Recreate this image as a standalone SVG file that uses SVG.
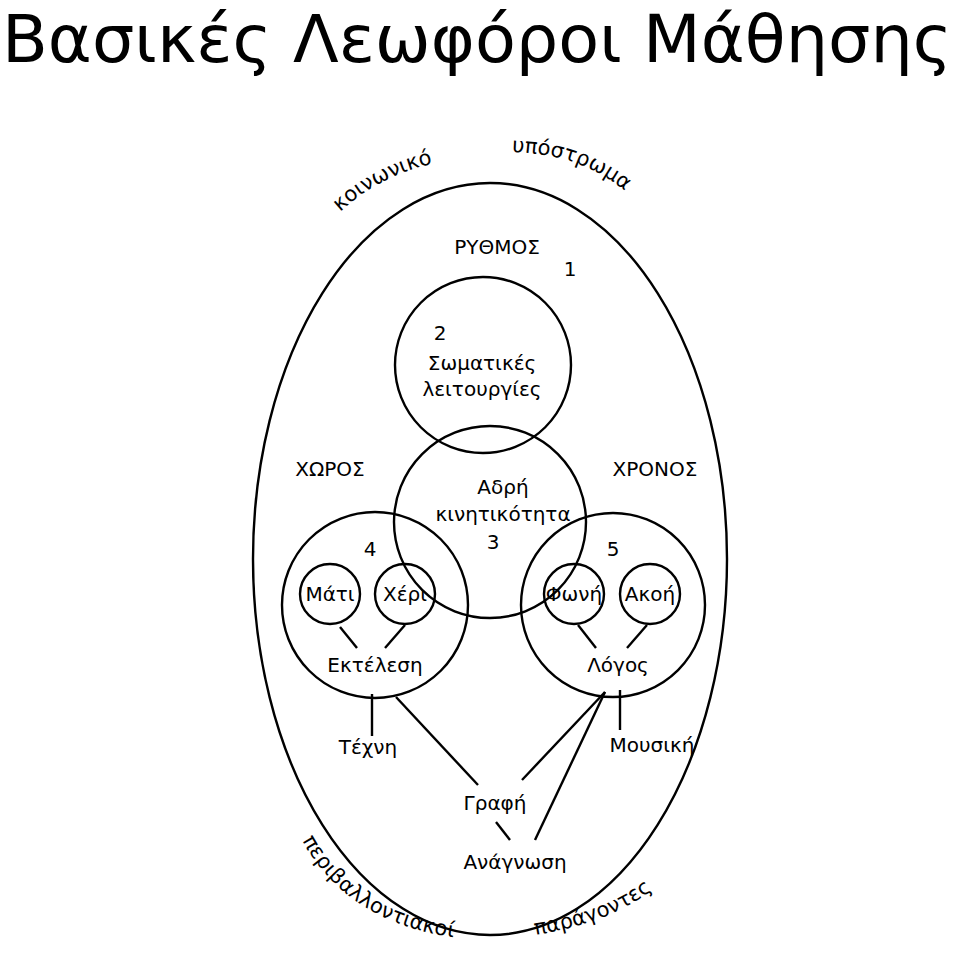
<svg xmlns="http://www.w3.org/2000/svg" width="960" height="956" viewBox="0 0 960 956">
<style>
.s{fill:none;stroke:#000;stroke-width:2.4}
.t{font-family:"DejaVu Sans",sans-serif;font-size:20px;fill:#000;text-anchor:middle}
.c{font-family:"DejaVu Sans",sans-serif;font-size:21px;fill:#000}
</style>
<rect width="960" height="956" fill="#fff"/>
<text x="2" y="62" font-family="'DejaVu Sans',sans-serif" font-size="66" textLength="950" lengthAdjust="spacingAndGlyphs">Βασικές Λεωφόροι Μάθησης</text>
<defs>
<path id="p1" d="M340 212 Q385 170 452 160"/>
<path id="p2" d="M512 152 Q592 154 640 205"/>
<path id="p3" d="M302 840 Q352 932 480 940"/>
<path id="p4" d="M535 935 Q628 920 672 872"/>
</defs>
<g id="outer"><ellipse class="s" cx="490" cy="559" rx="237" ry="376"/></g>
<g id="rythmos"><circle class="s" cx="483" cy="365" r="88"/></g>
<g id="adri"><circle class="s" cx="490" cy="522" r="96"/></g>
<g id="choros"><circle class="s" cx="375" cy="605" r="93"/></g>
<g id="chronos"><circle class="s" cx="613" cy="605" r="92"/></g>
<g id="mati"><circle class="s" cx="330" cy="594" r="30"/><text class="t" x="330" y="601">Μάτι</text></g>
<g id="cheri"><circle class="s" cx="405" cy="594" r="30"/><text class="t" x="405" y="601">Χέρι</text></g>
<g id="foni"><circle class="s" cx="574" cy="594" r="30"/><text class="t" x="574" y="601">Φωνή</text></g>
<g id="akoi"><circle class="s" cx="650" cy="594" r="30"/><text class="t" x="650" y="601">Ακοή</text></g>
<g id="connectors" class="s">
<line x1="340" y1="627" x2="357" y2="648"/>
<line x1="405" y1="625" x2="385" y2="648"/>
<line x1="578" y1="625" x2="596" y2="648"/>
<line x1="647" y1="625" x2="627" y2="648"/>
<line x1="372" y1="694" x2="372" y2="736"/>
<line x1="396" y1="697" x2="478" y2="785"/>
<line x1="620" y1="690" x2="620" y2="730"/>
<line x1="605" y1="692" x2="522" y2="780"/>
<line x1="605" y1="692" x2="535" y2="840"/>
<line x1="496" y1="822" x2="510" y2="840"/>
</g>
<g id="labels">
<text class="t" x="497" y="254">ΡΥΘΜΟΣ</text>
<text class="t" x="570" y="276">1</text>
<text class="t" x="440" y="340">2</text>
<text class="t" x="482" y="370">Σωματικές</text>
<text class="t" x="482" y="396">λειτουργίες</text>
<text class="t" x="330" y="476">ΧΩΡΟΣ</text>
<text class="t" x="655" y="476">ΧΡΟΝΟΣ</text>
<text class="t" x="503" y="494">Αδρή</text>
<text class="t" x="503" y="521">κινητικότητα</text>
<text class="t" x="493" y="549">3</text>
<text class="t" x="370" y="556">4</text>
<text class="t" x="613" y="556">5</text>
<text class="t" x="375" y="672">Εκτέλεση</text>
<text class="t" x="618" y="672">Λόγος</text>
<text class="t" x="368" y="754">Τέχνη</text>
<text class="t" x="652" y="752">Μουσική</text>
<text class="t" x="495" y="810">Γραφή</text>
<text class="t" x="515" y="869">Ανάγνωση</text>
<text class="c"><textPath href="#p1">κοινωνικό</textPath></text>
<text class="c"><textPath href="#p2">υπόστρωμα</textPath></text>
<text class="c"><textPath href="#p3">περιβαλλοντιακοί</textPath></text>
<text class="c"><textPath href="#p4">παράγοντες</textPath></text>
</g>
</svg>
